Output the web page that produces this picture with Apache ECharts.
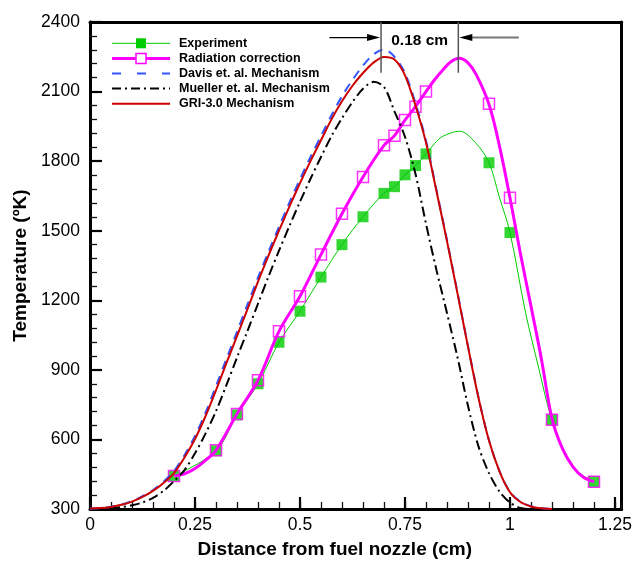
<!DOCTYPE html>
<html><head><meta charset="utf-8">
<script src="https://cdn.jsdelivr.net/npm/echarts@6/dist/echarts.min.js"></script>
<style>html,body{margin:0;padding:0;background:#fff}#c{width:635px;height:564px}</style>
</head><body><div id="c"></div>
<script>
// ---- Data ----
const expX = [0.2,0.3,0.35,0.4,0.45,0.5,0.55,0.6,0.65,0.7,0.725,0.75,0.775,0.8,0.95,1.0,1.1,1.2];
const expT = [442,551,706,840,1019,1153,1300,1440,1560,1661,1690,1741,1781,1831,1793,1492,685,418];
const expFitX = [0.2,0.3,0.35,0.4,0.45,0.5,0.55,0.6,0.65,0.7,0.725,0.75,0.775,0.8,0.82,0.84,0.88,0.918,0.95,0.974,1.0,1.037,1.069,1.1,1.15,1.2];
const expFitT = [442,551,706,840,1019,1153,1300,1440,1560,1661,1690,1741,1781,1831,1875,1907,1929,1879,1793,1649,1492,1148,904,685,480,418];

const radX = [0.2,0.3,0.35,0.4,0.45,0.5,0.55,0.6,0.65,0.7,0.725,0.75,0.775,0.8,0.95,1.0,1.1,1.2];
const radT = [442,553,710,855,1066,1217,1397,1573,1732,1868,1910,1977,2035,2100,2048,1642,685,418];
const radFitX = [0.2,0.225,0.25,0.275,0.3,0.35,0.4,0.45,0.5,0.55,0.6,0.65,0.7,0.725,0.75,0.775,0.8,0.82,0.84,0.86,0.879,0.9,0.92,0.95,0.975,1.0,1.025,1.05,1.075,1.1,1.125,1.15,1.175,1.2];
const radFitT = [442,452,475,510,553,710,855,1066,1217,1397,1573,1732,1868,1910,1977,2035,2100,2150,2193,2230,2244,2224,2172,2045,1865,1642,1400,1175,945,690,560,482,437,418];

const modelX = [0,0.025,0.05,0.075,0.1,0.125,0.15,0.175,0.2,0.225,0.25,0.275,0.3,0.325,0.35,0.375,0.4,0.425,0.45,0.475,0.5,0.525,0.55,0.575,0.6,0.625,0.65,0.675,0.7,0.725,0.75,0.775,0.8,0.825,0.85,0.875,0.9,0.925,0.95,0.975,1.0,1.025,1.05,1.075,1.1];
const griT    = [302,304,309,318,332,352,378,412,455,522,602,700,812,930,1045,1162,1280,1393,1500,1605,1705,1800,1890,1980,2058,2125,2180,2225,2249,2238,2170,2040,1880,1670,1455,1230,1000,780,595,462,372,330,311,303,300];
const davisT  = [302,304,310,319,334,355,382,418,463,532,615,715,830,948,1064,1182,1298,1410,1517,1622,1722,1818,1908,1998,2080,2150,2212,2260,2282,2250,2180,2050,1888,1676,1460,1234,1003,782,597,463,373,331,312,303,300];
const muellerT = [300,301,304,308,316,328,348,378,420,468,540,625,722,835,953,1068,1185,1302,1414,1521,1625,1724,1818,1908,1985,2055,2112,2142,2120,2015,1905,1745,1530,1330,1145,955,745,570,455,375,328,304,300,300,300];

const xTicks = [0,0.25,0.5,0.75,1,1.25];
const yTicks = [300,600,900,1200,1500,1800,2100,2400];

// annotation (data coordinates)
const annoLeftX = 0.693, annoRightX = 0.877, annoTop = 2400, annoBottom = 2181, annoArrowT = 2333;
const annoLeftStart = 0.57, annoRightStart = 1.021;

// ---- Chart ----
const FONT = '"Liberation Sans", Arial, Helvetica, sans-serif';
const pairs = (xs, ts) => xs.map((x, i) => [x, ts[i]]);
const chart = echarts.init(document.getElementById('c'), null, {renderer: 'canvas'});
const XMAX = 1.266;
const TICKC = '#000', MINORC = '#111';

chart.setOption({
  animation: false,
  backgroundColor: '#fff',
  grid: {left: 90, right: 12, top: 22, bottom: 54},
  xAxis: [{
    type: 'value', min: 0, max: XMAX, interval: 0.25, position: 'bottom',
    axisLine: {show: true, onZero: false, lineStyle: {color: '#000', width: 3}},
    axisTick: {show: true, inside: true, length: 12, lineStyle: {color: TICKC, width: 2.2}},
    axisLabel: {show: true, margin: 7, color: '#000', fontSize: 17.5, fontFamily: FONT, showMaxLabel: false,
      formatter: v => xTicks.some(t => Math.abs(t - v) < 1e-6) ? String(parseFloat(v.toFixed(2))) : ''},
    splitLine: {show: false},
    name: 'Distance from fuel nozzle (cm)', nameLocation: 'middle', nameGap: 31,
    nameTextStyle: {fontSize: 19, fontWeight: 'bold', color: '#000', fontFamily: FONT, padding: [0, 42, 0, 0]}
  }, {
    type: 'value', min: 0, max: XMAX, interval: 0.05, position: 'bottom',
    axisLine: {show: false}, axisLabel: {show: false}, splitLine: {show: false},
    axisTick: {show: true, inside: true, length: 7, lineStyle: {color: MINORC, width: 1.3}}
  }, {
    type: 'value', min: 0, max: XMAX, position: 'top',
    axisLine: {show: true, onZero: false, lineStyle: {color: '#000', width: 3}},
    axisTick: {show: false}, axisLabel: {show: false}, splitLine: {show: false}
  }],
  yAxis: [{
    type: 'value', min: yTicks[0], max: yTicks[yTicks.length - 1], interval: 300, position: 'left',
    axisLine: {show: true, onZero: false, lineStyle: {color: '#000', width: 3}},
    axisTick: {show: true, inside: true, length: 12, lineStyle: {color: TICKC, width: 2.2}},
    minorTick: {show: true, splitNumber: 5, length: 7, lineStyle: {color: MINORC, width: 1.3}},
    axisLabel: {show: true, margin: 10, color: '#000', fontSize: 17.5, fontFamily: FONT, formatter: v => String(v)},
    splitLine: {show: false},
    name: 'Temperature (ºK)', nameLocation: 'middle', nameGap: 55, nameRotate: 90,
    nameTextStyle: {fontSize: 19, fontWeight: 'bold', color: '#000', fontFamily: FONT}
  }, {
    type: 'value', min: yTicks[0], max: yTicks[yTicks.length - 1], position: 'right',
    axisLine: {show: true, onZero: false, lineStyle: {color: '#000', width: 3}},
    axisTick: {show: false}, axisLabel: {show: false}, splitLine: {show: false}
  }],
  series: [
    {name: 'Experiment fit', type: 'line', data: pairs(expFitX, expFitT), smooth: 0.35, symbol: 'none',
     lineStyle: {color: '#00cc00', width: 1}, z: 2},
    {name: 'Experiment', type: 'scatter', data: pairs(expX, expT), symbol: 'rect', symbolSize: 11,
     itemStyle: {color: '#00cc00'}, z: 3},
    {name: 'Radiation correction fit', type: 'line', data: pairs(radFitX, radFitT), smooth: 0.35, symbol: 'none',
     lineStyle: {color: '#ff00ff', width: 3}, z: 4},
    {name: 'Radiation correction', type: 'scatter', data: pairs(radX, radT), symbol: 'rect', symbolSize: 11,
     itemStyle: {color: 'rgba(0,0,0,0)', borderColor: '#ff00ff', borderWidth: 1.5}, z: 5},
    {name: 'Mueller et. al. Mechanism', type: 'line', data: pairs(modelX, muellerT), smooth: 0.3, symbol: 'none',
     lineStyle: {color: '#000', width: 2, type: [10, 4, 2, 4]}, z: 6},
    {name: 'Davis et. al. Mechanism', type: 'line', data: pairs(modelX, davisT), smooth: 0.3, symbol: 'none',
     lineStyle: {color: '#3355ff', width: 2, type: [9, 7]}, z: 7},
    {name: 'GRI-3.0 Mechanism', type: 'line', data: pairs(modelX, griT), smooth: 0.3, symbol: 'none',
     lineStyle: {color: '#cc0000', width: 2}, z: 8}
  ]
});

// ---- Annotation and legend (graphic overlay positioned through the axes' scales) ----
const P = (x, y) => chart.convertToPixel({xAxisIndex: 0, yAxisIndex: 0}, [x, y]);
const g = [];
const L1 = P(annoLeftX, annoTop), L2 = P(annoLeftX, annoBottom);
const R1 = P(annoRightX, annoTop), R2 = P(annoRightX, annoBottom);
const AL0 = P(annoLeftStart, annoArrowT), AR0 = P(annoRightStart, annoArrowT);
const ay = AL0[1];
g.push({type: 'line', shape: {x1: L1[0], y1: L1[1], x2: L2[0], y2: L2[1]}, style: {stroke: '#555', lineWidth: 1.5}, z: 100});
g.push({type: 'line', shape: {x1: R1[0], y1: R1[1], x2: R2[0], y2: R2[1]}, style: {stroke: '#555', lineWidth: 1.5}, z: 100});
g.push({type: 'line', shape: {x1: AL0[0], y1: ay, x2: L1[0] - 12, y2: ay}, style: {stroke: '#000', lineWidth: 1.3}, z: 100});
g.push({type: 'polygon', shape: {points: [[L1[0] - 1, ay], [L1[0] - 14, ay - 3.5], [L1[0] - 14, ay + 3.5]]}, style: {fill: '#000'}, z: 100});
g.push({type: 'line', shape: {x1: AR0[0], y1: ay, x2: R1[0] + 12, y2: ay}, style: {stroke: '#777', lineWidth: 2}, z: 100});
g.push({type: 'polygon', shape: {points: [[R1[0] + 1, ay], [R1[0] + 14, ay - 3.5], [R1[0] + 14, ay + 3.5]]}, style: {fill: '#000'}, z: 100});
g.push({type: 'text', style: {text: '0.18 cm', x: (L1[0] + R1[0]) / 2, y: ay + 3.5, align: 'center', verticalAlign: 'middle',
  fontSize: 15.5, fontWeight: 'bold', fontFamily: FONT, fill: '#000'}, z: 100});

const legendItems = [
  {label: 'Experiment', stroke: '#00cc00', width: 1, dash: null, marker: 'fill', mcolor: '#00cc00'},
  {label: 'Radiation correction', stroke: '#ff00ff', width: 3, dash: null, marker: 'hollow', mcolor: '#ff00ff'},
  {label: 'Davis et. al. Mechanism', stroke: '#3355ff', width: 2, dash: [9, 16], marker: null},
  {label: 'Mueller et. al. Mechanism', stroke: '#000', width: 2, dash: [9, 4, 2, 4], marker: null},
  {label: 'GRI-3.0 Mechanism', stroke: '#cc0000', width: 2, dash: null, marker: null}
];
const lx1 = 112, lx2 = 170, ltx = 179, ly0 = 43.3, ldy = 15.1;
legendItems.forEach((it, i) => {
  const y = ly0 + i * ldy;
  g.push({type: 'line', shape: {x1: lx1, y1: y, x2: lx2, y2: y},
    style: {stroke: it.stroke, lineWidth: it.width, lineDash: it.dash || null}, z: 100});
  if (it.marker === 'fill') {
    g.push({type: 'rect', shape: {x: 136, y: y - 5, width: 10, height: 10}, style: {fill: it.mcolor}, z: 101});
  } else if (it.marker === 'hollow') {
    g.push({type: 'rect', shape: {x: 136, y: y - 5, width: 10, height: 10}, style: {fill: '#fff', stroke: it.mcolor, lineWidth: 1.5}, z: 101});
  }
  g.push({type: 'text', style: {text: it.label, x: ltx, y: y, verticalAlign: 'middle', align: 'left',
    fontSize: 12.5, fontWeight: 'bold', fontFamily: FONT, fill: '#000'}, z: 100});
});
chart.setOption({graphic: g});
</script>
</body></html>
